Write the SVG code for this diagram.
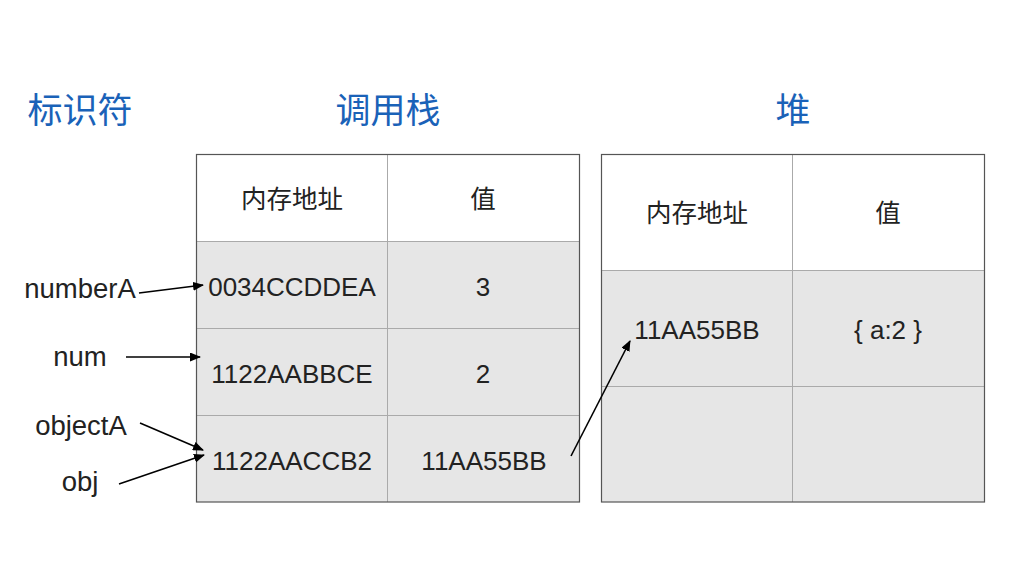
<svg xmlns="http://www.w3.org/2000/svg" width="1010" height="588" viewBox="0 0 1010 588">
<defs>
<marker id="ah" markerWidth="11" markerHeight="9" refX="10" refY="4.5" orient="auto" markerUnits="userSpaceOnUse">
<path d="M0,0 L11,4.5 L0,9 Z" fill="#000"/>
</marker>
<style>
.title{font-family:"Noto Sans CJK SC","Noto Sans",sans-serif;font-size:35px;fill:#1a62b8;text-anchor:middle}
.cjk{font-family:"Noto Sans CJK SC","Noto Sans",sans-serif;font-size:25.5px;fill:#222;text-anchor:middle}
.t{font-family:"Liberation Sans",Arial,sans-serif;font-size:26px;fill:#222;text-anchor:middle}
.lbl{font-family:"Liberation Sans",Arial,sans-serif;font-size:27.5px;fill:#222;text-anchor:middle}
.outer{fill:none;stroke:#555;stroke-width:1.2}
.inner{stroke:#aaa;stroke-width:1;fill:none}
.cell{fill:#e6e6e6}
.arr{stroke:#000;stroke-width:1.6;fill:none;marker-end:url(#ah)}
</style>
</defs>
<rect width="1010" height="588" fill="#fff"/>
<g id="titles">
<text class="title" x="80" y="123">标识符</text>
<text class="title" x="388" y="123">调用栈</text>
<text class="title" x="793" y="123">堆</text>
</g>
<g id="stack">
<rect class="cell" x="196.5" y="241.5" width="383" height="260.5"/>
<line class="inner" x1="387.5" y1="154.5" x2="387.5" y2="502"/>
<line class="inner" x1="196.5" y1="241.5" x2="579.5" y2="241.5"/>
<line class="inner" x1="196.5" y1="328.5" x2="579.5" y2="328.5"/>
<line class="inner" x1="196.5" y1="415.5" x2="579.5" y2="415.5"/>
<rect class="outer" x="196.5" y="154.5" width="383" height="347.5"/>
<text class="cjk" x="292" y="208">内存地址</text>
<text class="cjk" x="483" y="208">值</text>
<text class="t" x="292" y="296">0034CCDDEA</text>
<text class="t" x="483" y="296">3</text>
<text class="t" x="292" y="383">1122AABBCE</text>
<text class="t" x="483" y="383">2</text>
<text class="t" x="292" y="470">1122AACCB2</text>
<text class="t" x="484" y="470">11AA55BB</text>
</g>
<g id="heap">
<rect class="cell" x="601.5" y="270.5" width="383" height="231.5"/>
<line class="inner" x1="792.5" y1="154.5" x2="792.5" y2="502"/>
<line class="inner" x1="601.5" y1="270.5" x2="984.5" y2="270.5"/>
<line class="inner" x1="601.5" y1="386.5" x2="984.5" y2="386.5"/>
<rect class="outer" x="601.5" y="154.5" width="383" height="347.5"/>
<text class="cjk" x="697" y="222">内存地址</text>
<text class="cjk" x="888" y="222">值</text>
<text class="t" x="697" y="339">11AA55BB</text>
<text class="t" x="888" y="339">{ a:2 }</text>
</g>
<g id="labels">
<text class="lbl" x="80" y="298">numberA</text>
<text class="lbl" x="80" y="366">num</text>
<text class="lbl" x="81" y="435">objectA</text>
<text class="lbl" x="80" y="491">obj</text>
</g>
<g id="connectors">
<line class="arr" x1="139" y1="293" x2="203" y2="285"/>
<line class="arr" x1="126" y1="357" x2="200" y2="357"/>
<line class="arr" x1="140" y1="423" x2="203" y2="450"/>
<line class="arr" x1="119" y1="484" x2="204" y2="455"/>
<line class="arr" x1="571" y1="456" x2="630" y2="341"/>
</g>
</svg>
